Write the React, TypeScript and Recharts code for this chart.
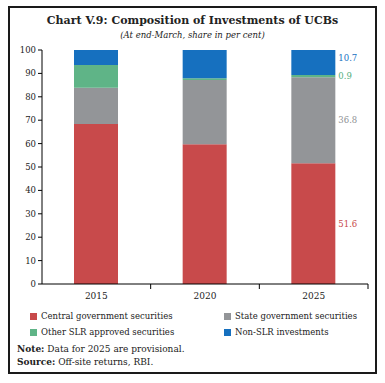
import React from 'react';
import { BarChart, Bar, XAxis, YAxis, LabelList } from 'recharts';

const years = ['2015', '2020', '2025'];
const central = [68.4, 59.7, 51.6];
const stateGov = [15.5, 27.5, 36.8];
const otherSlr = [9.7, 0.7, 0.9];
const nonSlr = [6.4, 12.1, 10.7];
const yTicks = [0, 10, 20, 30, 40, 50, 60, 70, 80, 90, 100];

const series = [
  { key: 'central', name: 'Central government securities', color: '#C84A4B', labelColor: '#C84A4B', values: central },
  { key: 'state', name: 'State government securities', color: '#939598', labelColor: '#8E9094', values: stateGov },
  { key: 'other', name: 'Other SLR approved securities', color: '#5FB487', labelColor: '#4FAE7C', values: otherSlr },
  { key: 'nonslr', name: 'Non-SLR investments', color: '#1670BF', labelColor: '#1670BF', values: nonSlr },
];

const data = years.map((year, i) => {
  const row: any = { year };
  series.forEach((s) => (row[s.key] = s.values[i]));
  return row;
});

const FONT = "'DejaVu Serif', serif";
const PLOT_LEFT = 42;
const PLOT_RIGHT = 368;
const band = (PLOT_RIGHT - PLOT_LEFT) / years.length;

const XTick = (props: any) => {
  const { x, y, payload } = props;
  return (
    <g>
      <line x1={x + band / 2} y1={284} x2={x + band / 2} y2={289} stroke="#000" strokeWidth={1} />
      <text x={x} y={y + 1} dy="0.71em" textAnchor="middle" fontSize={9} fill="#222" fontFamily={FONT}>
        {payload.value}
      </text>
    </g>
  );
};

const makeLabel = (color: string, lastIndex: number, dy: number) => (props: any) => {
  const { x, y, width, height, value, index } = props;
  if (index !== lastIndex) return null;
  return (
    <text
      x={x + width + 3}
      y={y + height / 2 + dy}
      dominantBaseline="central"
      fontSize={8.5}
      fill={color}
      fontFamily={FONT}
    >
      {value.toFixed(1)}
    </text>
  );
};

const App: React.FC = () => {
  return (
    <div
      style={{
        position: 'fixed',
        left: 0,
        top: 0,
        width: 385,
        height: 383,
        background: '#fff',
        fontFamily: FONT,
        color: '#222',
      }}
    >
      <div
        style={{
          position: 'absolute',
          left: 8,
          top: 6,
          width: 369,
          height: 368,
          border: '2px solid #1a1a1a',
          boxSizing: 'border-box',
        }}
      />
      <div style={{ position: 'absolute', top: 14, left: 0, width: 385, textAlign: 'center', fontWeight: 'bold', fontSize: 11 }}>
        Chart V.9: Composition of Investments of UCBs
      </div>
      <div style={{ position: 'absolute', top: 30, left: 0, width: 385, textAlign: 'center', fontStyle: 'italic', fontSize: 8.5 }}>
        (At end-March, share in per cent)
      </div>
      <div style={{ position: 'absolute', left: 0, top: 0 }}>
        <BarChart width={385} height={304} data={data} margin={{ top: 50, right: 17, bottom: 0, left: 0 }}>
          <XAxis
            dataKey="year"
            height={20}
            tickLine={false}
            axisLine={{ stroke: '#000' }}
            tick={<XTick />}
            interval={0}
          />
          <YAxis
            width={42}
            domain={[0, 100]}
            ticks={yTicks}
            interval={0}
            tickSize={4}
            axisLine={{ stroke: '#000' }}
            tickLine={{ stroke: '#000' }}
            tick={{ fontSize: 8.5, fill: '#222', fontFamily: FONT }}
          />
          {series.map((s, si) => (
            <Bar key={s.key} dataKey={s.key} name={s.name} stackId="a" fill={s.color} barSize={44} isAnimationActive={false}>
              <LabelList dataKey={s.key} content={makeLabel(s.labelColor, years.length - 1, si === 3 ? -5 : 0)} />
            </Bar>
          ))}
        </BarChart>
      </div>
      {series.map((s, i) => (
        <div
          key={s.key}
          style={{
            position: 'absolute',
            left: i % 2 === 0 ? 30 : 224,
            top: i < 2 ? 311 : 327,
            fontSize: 8.5,
            display: 'flex',
            alignItems: 'center',
            whiteSpace: 'nowrap',
          }}
        >
          <span style={{ display: 'inline-block', width: 7, height: 7, background: s.color, marginRight: 4 }} />
          {s.name}
        </div>
      ))}
      <div style={{ position: 'absolute', left: 17, top: 343, fontSize: 9, lineHeight: '12.5px' }}>
        <div>
          <b>Note:</b> Data for 2025 are provisional.
        </div>
        <div>
          <b>Source:</b> Off-site returns, RBI.
        </div>
      </div>
    </div>
  );
};

export default App;
